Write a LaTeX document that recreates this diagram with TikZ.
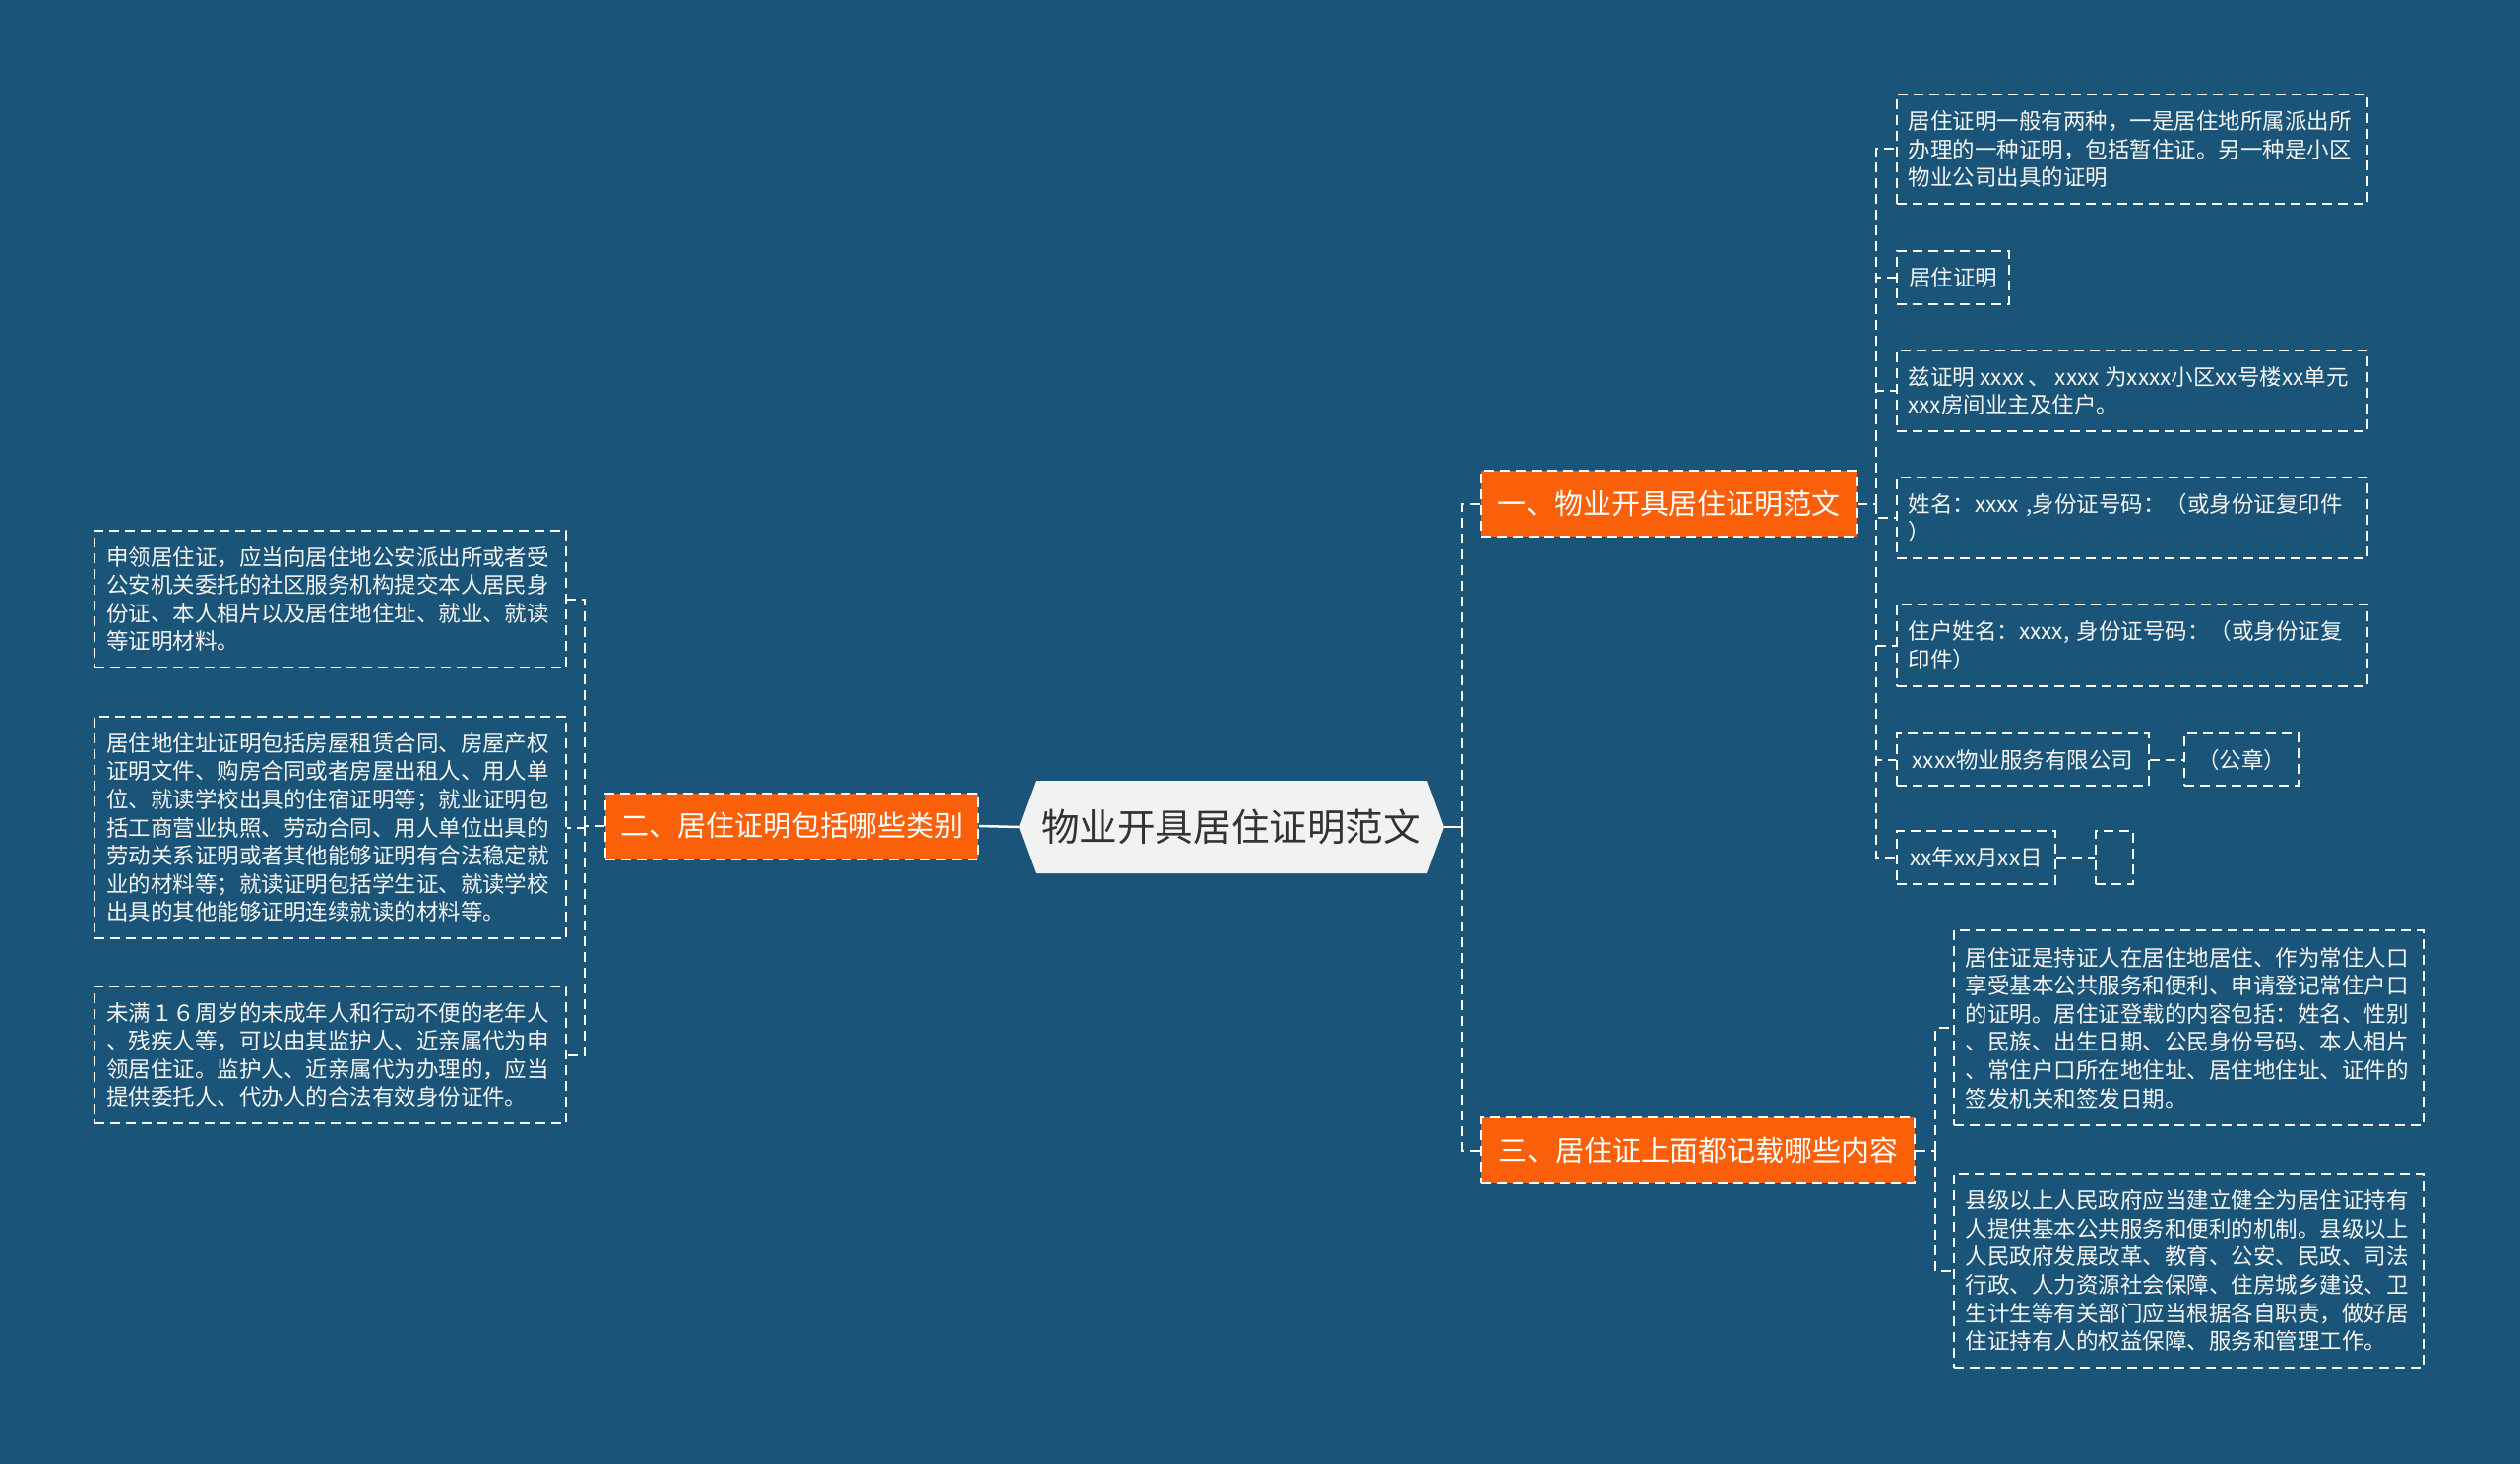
\documentclass[tikz,border=0pt]{standalone}
\usepackage{fontspec}
\setmainfont{Noto Sans CJK SC}
\usetikzlibrary{shapes.symbols}
\definecolor{bg}{RGB}{26,84,120}
\definecolor{org}{RGB}{250,95,10}
\definecolor{cfill}{RGB}{242,242,242}
\definecolor{ctext}{RGB}{51,51,51}
\definecolor{ltext}{RGB}{245,245,245}
\begin{document}
\begin{tikzpicture}[x=1pt,y=-1pt,
  conn/.style={draw=white, line width=2pt, dash pattern=on 10pt off 6pt},
  leaf/.style={draw=white, line width=2pt, dash pattern=on 10pt off 6pt, text=ltext,
    font=\fontsize{22.5}{28.6}\selectfont, align=left, inner sep=0pt, anchor=center},
  leafone/.style={leaf, align=center},
  branch/.style={fill=org, draw=white, line width=2pt, dash pattern=on 10pt off 6pt,
    text=white, font=\fontsize{29}{34}\selectfont, inner sep=0pt, anchor=center, minimum height=67pt},
  centre/.style={signal, signal to=west and east, signal pointer angle=140, fill=cfill,
    minimum width=432pt, minimum height=94pt, inner sep=0pt, text=ctext,
    font=\fontsize{38.6}{46}\selectfont}
]
\fill[bg] (0,0) rectangle (2560,1487);
\useasboundingbox (0,0) rectangle (2560,1487);

% centre and branches
\node[centre] (c) at (1251,840) {物业开具居住证明范文};
\node[branch, minimum width=381pt] (b1) at (1695.5,511.5) {一、物业开具居住证明范文};
\node[branch, minimum width=379pt] (b2) at (804.5,839) {二、居住证明包括哪些类别};
\node[branch, minimum width=440pt] (b3) at (1725,1168.5) {三、居住证上面都记载哪些内容};

% branch 1 leaves
\node[leaf, minimum width=478pt, minimum height=111pt, text width=455pt] (l1a) at (2166,151.5)
  {居住证明一般有两种，一是居住地所属派出所\\办理的一种证明，包括暂住证。另一种是小区\\物业公司出具的证明};
\node[leafone, minimum width=114pt, minimum height=54pt] (l1b) at (1984,282) {居住证明};
\node[leaf, minimum width=478pt, minimum height=82pt, text width=455pt] (l1c) at (2166,397)
  {\mbox{兹证明\hspace{0.25em}xxxx\hspace{0.2em}、\hspace{0.2em}xxxx\hspace{0.25em}为xxxx小区xx号楼xx单元}\\xxx房间业主及住户。};
\node[leaf, minimum width=478pt, minimum height=82pt, text width=455pt] (l1d) at (2166,526)
  {姓名：xxxx ,身份证号码：（或身份证复印件\\）};
\node[leaf, minimum width=478pt, minimum height=83pt, text width=455pt] (l1e) at (2166,655.5)
  {住户姓名：xxxx, 身份证号码：（或身份证复\\印件）};
\node[leafone, minimum width=256pt, minimum height=53pt] (l1f) at (2055,771.5) {xxxx物业服务有限公司};
\node[leafone, minimum width=116pt, minimum height=53pt] (l1f2) at (2277,771.5) {（公章）};
\node[leafone, minimum width=161pt, minimum height=54pt] (l1g) at (2007.5,871) {xx年xx月xx日};
\node[leafone, minimum width=38pt, minimum height=54pt] (l1g2) at (2148,871) {};

% branch 2 leaves
\node[leaf, minimum width=479pt, minimum height=139pt, text width=455pt] (l2a) at (335.5,608.5)
  {申领居住证，应当向居住地公安派出所或者受\\公安机关委托的社区服务机构提交本人居民身\\份证、本人相片以及居住地住址、就业、就读\\等证明材料。};
\node[leaf, minimum width=479pt, minimum height=225pt, text width=455pt] (l2b) at (335.5,840.5)
  {居住地住址证明包括房屋租赁合同、房屋产权\\证明文件、购房合同或者房屋出租人、用人单\\位、就读学校出具的住宿证明等；就业证明包\\括工商营业执照、劳动合同、用人单位出具的\\劳动关系证明或者其他能够证明有合法稳定就\\业的材料等；就读证明包括学生证、就读学校\\出具的其他能够证明连续就读的材料等。};
\node[leaf, minimum width=479pt, minimum height=139pt, text width=455pt] (l2c) at (335.5,1071.5)
  {未满１６周岁的未成年人和行动不便的老年人\\、残疾人等，可以由其监护人、近亲属代为申\\领居住证。监护人、近亲属代为办理的，应当\\提供委托人、代办人的合法有效身份证件。};

% branch 3 leaves
\node[leaf, minimum width=477pt, minimum height=198pt, text width=454pt] (l3a) at (2223.5,1044)
  {居住证是持证人在居住地居住、作为常住人口\\享受基本公共服务和便利、申请登记常住户口\\的证明。居住证登载的内容包括：姓名、性别\\、民族、出生日期、公民身份号码、本人相片\\、常住户口所在地住址、居住地住址、证件的\\签发机关和签发日期。};
\node[leaf, minimum width=477pt, minimum height=197pt, text width=454pt] (l3b) at (2223.5,1290.5)
  {县级以上人民政府应当建立健全为居住证持有\\人提供基本公共服务和便利的机制。县级以上\\人民政府发展改革、教育、公安、民政、司法\\行政、人力资源社会保障、住房城乡建设、卫\\生计生等有关部门应当根据各自职责，做好居\\住证持有人的权益保障、服务和管理工作。};

% junctions
\coordinate (jc) at (1485,840);
\coordinate (j1) at (1906,511.5);
\coordinate (j2) at (594,839);
\coordinate (j3) at (1966,1168.5);

% connectors
\draw[white, line width=2.5pt] (c.east) -- (jc);
\draw[white, line width=2.5pt] (c.west) -- (b2.east);
\draw[conn] (jc) |- (b1.west);
\draw[conn] (jc) |- (b3.west);

\draw[conn] (b1.east) -- (j1);
\foreach \n in {l1a,l1b,l1c,l1d,l1e,l1f,l1g} \draw[conn] (j1) |- (\n.west);
\draw[conn] (l1f.east) -- (l1f2.west);
\draw[conn] (l1g.east) -- (l1g2.west);

\draw[conn] (b2.west) -- (j2);
\foreach \n in {l2a,l2b,l2c} \draw[conn] (j2) |- (\n.east);

\draw[conn] (b3.east) -- (j3);
\foreach \n in {l3a,l3b} \draw[conn] (j3) |- (\n.west);
\end{tikzpicture}
\end{document}
